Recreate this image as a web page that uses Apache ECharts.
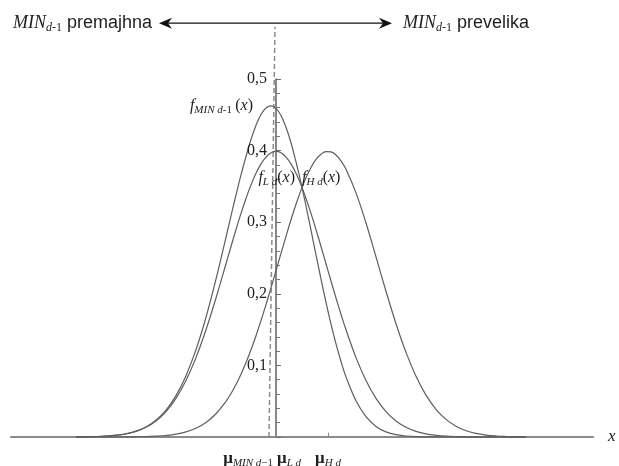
<!DOCTYPE html>
<html><head><meta charset="utf-8">
<script src="https://cdn.jsdelivr.net/npm/echarts@6/dist/echarts.min.js"></script>
<style>html,body{margin:0;padding:0;background:#fff}#c{width:619px;height:466px}</style>
</head><body><div id="c"></div>
<script>
// ---- data (x in units of sigma, mu_L d = 0) ----
const xValues = [-4.0,-3.8,-3.6,-3.4,-3.2,-3.0,-2.8,-2.6,-2.4,-2.2,-2.0,-1.8,-1.6,-1.4,-1.2,-1.0,
  -0.9,-0.8,-0.7,-0.6,-0.5,-0.4,-0.3,-0.2,-0.1,0,0.1,0.2,0.3,0.4,0.5,0.6,0.7,0.8,0.9,1.0,1.1,1.2,1.3,1.4,
  1.6,1.8,2.0,2.2,2.4,2.6,2.8,3.0,3.2,3.4,3.6,3.8,4.0,4.2,4.4,4.6,4.8,5.0];
const fMinValues = [0.0001,0.0003,0.0006,0.0012,0.0025,0.0045,0.0082,0.0141,0.0235,0.0376,0.0578,0.0857,0.1220,0.1673,0.2205,0.2789,
  0.3087,0.3380,0.3661,0.3918,0.4155,0.4355,0.4505,0.4595,0.4625,0.4590,0.4490,0.4325,0.4110,0.3842,0.3548,0.3226,0.2888,0.2544,0.2206,0.1881,0.1577,0.1301,0.1054,0.0840,
  0.0506,0.0284,0.0148,0.0072,0.0032,0.0014,0.0005,0.0002,0.0001,0,0,0,0,0,0,0,0,0];
const fLValues = [0.0001,0.0003,0.0006,0.0012,0.0024,0.0044,0.0079,0.0136,0.0224,0.0355,0.0540,0.0790,0.1109,0.1497,0.1942,0.2420,
  0.2661,0.2897,0.3123,0.3332,0.3521,0.3683,0.3814,0.3910,0.3970,0.3989,0.3970,0.3910,0.3814,0.3683,0.3521,0.3332,0.3123,0.2897,0.2661,0.2420,0.2179,0.1942,0.1714,0.1497,
  0.1109,0.0790,0.0540,0.0355,0.0224,0.0136,0.0079,0.0044,0.0024,0.0012,0.0006,0.0003,0.0001,0,0,0,0,0];
const fHValues = [0,0,0,0,0,0.0001,0.0003,0.0005,0.0011,0.0021,0.0039,0.0071,0.0122,0.0203,0.0325,0.0498,
  0.0608,0.0734,0.0878,0.1040,0.1219,0.1415,0.1626,0.1849,0.2083,0.2323,0.2565,0.2803,0.3034,0.3251,0.3448,0.3621,0.3765,0.3876,0.3950,0.3986,0.3982,0.3939,0.3857,0.3739,
  0.3410,0.2989,0.2516,0.2036,0.1582,0.1182,0.0848,0.0584,0.0387,0.0246,0.0151,0.0088,0.0050,0.0027,0.0014,0.0007,0.0003,0.0002];
const meanValues = [-0.14, 0, 1.04];          // mu_MIN d-1, mu_L d, mu_H d
const peakMin = 0.463;                         // peak of f_MIN d-1
const yTickValues = [0.1, 0.2, 0.3, 0.4, 0.5];
const yTickLabels = ['0,1','0,2','0,3','0,4','0,5'];
const seriesNames = ['fMIN','fL','fH'];

// ---- styles ----
const SERIF = '"Liberation Serif", "DejaVu Serif", serif';
const SANS = '"Liberation Sans", Arial, sans-serif';
const TXT = '#1e1e1e';
const CURVE = '#5e5e5e';

const RICH = {
  f:  {fontFamily:SERIF, fontStyle:'italic', fontSize:16, lineHeight:20, color:TXT},
  n:  {fontFamily:SERIF, fontSize:16, lineHeight:20, color:TXT},
  s:  {fontFamily:SERIF, fontStyle:'italic', fontSize:11, verticalAlign:'bottom', color:TXT},
  ns: {fontFamily:SERIF, fontSize:11, verticalAlign:'bottom', color:TXT},
  mu: {fontFamily:SERIF, fontSize:17, fontWeight:'bold', lineHeight:20, color:TXT}
};
function lbl(coord, text, align, offset){
  return {coord, symbol:'circle', symbolSize:1, itemStyle:{color:'rgba(0,0,0,0)'},
    label:{show:true, position:'inside', formatter:()=>text, align, verticalAlign:'middle',
      offset, color:TXT, rich:RICH}};
}
function pairs(ys){ return xValues.map((x,i)=>[x, ys[i]]); }
const base = {type:'line', showSymbol:false, symbol:'none', smooth:0.4, clip:false, silent:true,
  animation:false, lineStyle:{color:CURVE, width:1.2}, z:3};

const option = {
  animation:false,
  backgroundColor:'#fff',
  grid:{left:11, right:26, top:79, bottom:29, containLabel:false, outerBoundsMode:'none'},
  xAxis:{type:'value', min:-5.3, max:6.34,
    axisLine:{show:true, onZero:true, lineStyle:{color:'#8a8a8a', width:2}},
    axisTick:{show:false}, axisLabel:{show:false}, splitLine:{show:false},
    name:'x', nameLocation:'end', nameGap:15,
    nameTextStyle:{fontFamily:SERIF, fontStyle:'italic', fontSize:17, color:TXT, verticalAlign:'middle', align:'left'}},
  yAxis:{type:'value', min:0, max:0.5, interval:0.1,
    axisLine:{show:true, onZero:true, lineStyle:{color:'#6a6a6a', width:1.6}},
    axisTick:{show:true, inside:true, length:5, lineStyle:{color:'#6a6a6a', width:1}},
    minorTick:{show:true, splitNumber:5, length:4, lineStyle:{color:'#7a7a7a', width:1}},
    axisLabel:{show:false},
    splitLine:{show:false}},
  series:[
    Object.assign({}, base, {name:seriesNames[0], data:pairs(fMinValues),
      markPoint:{silent:true, animation:false, data:[
        lbl([meanValues[0], peakMin], '{f|f}{s|MIN d}{ns|-1} {n|(}{f|x}{n|)}', 'right', [-16, 0]),
        lbl([meanValues[0], 0], '{mu|μ}{s|MIN d}{ns|−1}', 'right', [4, 22])
      ]}}),
    Object.assign({}, base, {name:seriesNames[1], data:pairs(fLValues),
      markPoint:{silent:true, animation:false, data:[
        lbl([0.38, 0.362], '{f|f}{s|L d}{n|(}{f|x}{n|)}', 'right', [0, 0]),
        lbl([meanValues[1], 0], '{mu|μ}{s|L d}', 'left', [1, 22])
      ].concat(yTickValues.map((v, i) => lbl([meanValues[1], v], '{n|' + yTickLabels[i] + '}', 'right', [-9, 0])))},
      markLine:{silent:true, animation:false, symbol:['none','none'], label:{show:false},
        lineStyle:{color:'#6a6a6a', width:1.6, type:'solid'},
        data:[[{coord:[meanValues[1], 0.5]}, {coord:[meanValues[1], 0.507]}]]}}),
    Object.assign({}, base, {name:seriesNames[2], data:pairs(fHValues),
      markPoint:{silent:true, animation:false, data:[
        lbl([0.52, 0.362], '{f|f}{s|H d}{n|(}{f|x}{n|)}', 'left', [0, 0]),
        lbl([meanValues[2], 0], '{mu|μ}{s|H d}', 'center', [0, 22])
      ]},
      markLine:{silent:true, animation:false, symbol:['none','none'], label:{show:false},
        lineStyle:{color:'#8a8a8a', width:1, type:'solid'},
        data:[[{coord:[meanValues[2], 0]}, {coord:[meanValues[2], 0.006]}]]}})
  ]
};

const chart = echarts.init(document.getElementById('c'), null, {renderer:'canvas'});
chart.setOption(option);

// ---- top annotation (arrow, dashed reference line) placed through the axes' scales ----
const arrowX = [-2.34, 2.32], arrowY = 0.578, dashTop = [-0.02, 0.573];
const px = v => chart.convertToPixel({gridIndex:0}, v);
const L = px([arrowX[0], arrowY]), R = px([arrowX[1], arrowY]);
const dB = px([meanValues[0], 0]), dT = px(dashTop);
const TOP_RICH = {
  mi:{fontFamily:SERIF, fontStyle:'italic', fontSize:18, lineHeight:22, fill:TXT},
  si:{fontFamily:SERIF, fontStyle:'italic', fontSize:12, verticalAlign:'bottom', fill:TXT},
  sn:{fontFamily:SERIF, fontSize:12, verticalAlign:'bottom', fill:TXT},
  t:{fontFamily:SANS, fontSize:18, lineHeight:22, fill:TXT}
};
const y = L[1];
chart.setOption({graphic:[
  {type:'line', silent:true, z:1, shape:{x1:dB[0], y1:dB[1], x2:dT[0], y2:dT[1]},
    style:{stroke:'#8c8c8c', lineWidth:1.5, lineDash:[5,3]}},
  {type:'line', silent:true, shape:{x1:L[0]+8, y1:y, x2:R[0]-8, y2:y},
    style:{stroke:'#111', lineWidth:1.4}},
  {type:'polygon', silent:true, shape:{points:[[L[0],y],[L[0]+13,y-5.5],[L[0]+9,y],[L[0]+13,y+5.5]]},
    style:{fill:'#111'}},
  {type:'polygon', silent:true, shape:{points:[[R[0],y],[R[0]-13,y-5.5],[R[0]-9,y],[R[0]-13,y+5.5]]},
    style:{fill:'#111'}},
  {type:'text', silent:true, style:{text:'{mi|MIN}{si|d}{sn|-1}{t| premajhna}', rich:TOP_RICH,
    x:L[0]-7, y:y, align:'right', verticalAlign:'middle'}},
  {type:'text', silent:true, style:{text:'{mi|MIN}{si|d}{sn|-1}{t| prevelika}', rich:TOP_RICH,
    x:R[0]+11, y:y, align:'left', verticalAlign:'middle'}}
]});
</script>
</body></html>
